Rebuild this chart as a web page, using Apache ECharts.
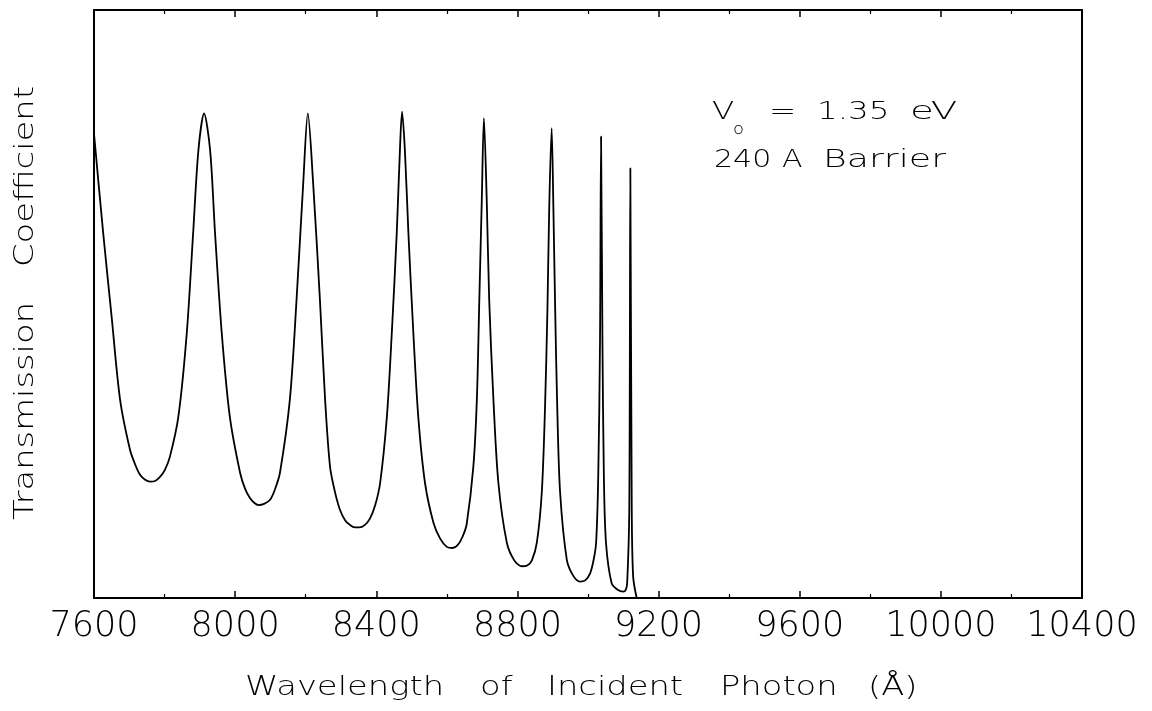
<!DOCTYPE html>
<html>
<head>
<meta charset="utf-8">
<script src="https://cdn.jsdelivr.net/npm/echarts@6/dist/echarts.min.js"></script>
<style>html,body{margin:0;padding:0;background:#fff;}#c{width:1152px;height:711px;}</style>
</head>
<body>
<div id="c"></div>
<script>
// Wavelength (Angstrom) sample positions
const wavelength = [7600,7626,7650,7674,7702,7716,7730,7745,7759,7773,7787,7801,7815,7839,7863,7881,7896,7912,7929,7943,7962,7985,8014,8028,8042,8054,8066,8082,8099,8113,8127,8155,8174,8193,8206,8221,8240,8255,8269,8283,8297,8312,8326,8339,8352,8367,8382,8397,8411,8430,8444,8458,8467,8473,8481,8491,8505,8519,8538,8562,8581,8600,8616,8632,8645,8656,8675,8685,8692,8699,8705,8713,8720,8732,8746,8770,8791,8812,8827,8841,8855,8869,8878,8885,8890,8897,8902,8907,8913,8921,8940,8958,8977,8992,9006,9016,9023,9029,9034,9037,9041,9045,9051,9067,9084,9100,9107,9111,9117,9120,9124,9128,9138];
// Transmission coefficient (relative units, 0 = axis, 1 = top of frame)
const transmission = [0.79,0.621,0.478,0.337,0.252,0.228,0.210,0.201,0.198,0.199,0.206,0.218,0.240,0.308,0.451,0.621,0.762,0.824,0.762,0.621,0.451,0.308,0.213,0.186,0.170,0.162,0.158,0.160,0.167,0.185,0.213,0.337,0.507,0.706,0.824,0.706,0.51,0.337,0.223,0.180,0.150,0.132,0.124,0.120,0.120,0.124,0.135,0.158,0.196,0.308,0.451,0.621,0.762,0.827,0.762,0.621,0.451,0.308,0.196,0.128,0.101,0.087,0.085,0.091,0.105,0.125,0.223,0.337,0.507,0.677,0.816,0.677,0.507,0.337,0.196,0.094,0.064,0.054,0.055,0.064,0.094,0.179,0.320,0.490,0.660,0.799,0.660,0.490,0.320,0.179,0.065,0.038,0.028,0.030,0.042,0.065,0.094,0.206,0.434,0.785,0.434,0.206,0.094,0.025,0.014,0.011,0.014,0.025,0.150,0.731,0.150,0.036,0];
const xTicks = [7600,8000,8400,8800,9200,9600,10000,10400];

const FONT = 'DejaVu Sans';
const chart = echarts.init(document.getElementById('c'), null, {renderer:'canvas'});
const pts = wavelength.map((w,i)=>[w, transmission[i]]);
const tickCommon = {
  type:'value', min: xTicks[0], max: xTicks[xTicks.length-1], interval: 400,
  axisLine:{show:true, onZero:false, lineStyle:{color:'#000', width:2}},
  axisTick:{show:true, inside:true, length:7, lineStyle:{color:'#000', width:1.5}},
  minorTick:{show:true, splitNumber:2, length:4, lineStyle:{color:'#000', width:1.2}},
  splitLine:{show:false}
};
function word(text, x, y, size, sx, rot){
  return {type:'text', x:x, y:y, rotation:rot||0, scaleX:sx, scaleY:1,
    style:{text:text, font:'200 '+size+'px "DejaVu Sans"', fill:'#000', verticalAlign:'middle', align:'left'}};
}
const R = Math.PI/2;
chart.setOption({
  animation:false,
  backgroundColor:'#fff',
  grid:{left:94, right:70, top:10, bottom:113, show:true, borderColor:'#000', borderWidth:2},
  xAxis:[
    Object.assign({}, tickCommon, {position:'bottom',
      axisLabel:{show:true, margin:11, color:'#000', fontFamily:FONT, fontSize:35, fontWeight:200,
        formatter:function(v){return String(v);}}}),
    Object.assign({}, tickCommon, {position:'top', axisLabel:{show:false}})
  ],
  yAxis:[
    {type:'value', min:0, max:1, axisLabel:{show:false}, axisTick:{show:false}, splitLine:{show:false},
     axisLine:{show:true, lineStyle:{color:'#000', width:2}}}
  ],
  series:[{
    type:'line', data: pts, xAxisIndex:0, yAxisIndex:0, showSymbol:false, symbol:'none',
    smooth:0.3, lineStyle:{color:'#000', width:1.8}, clip:true
  },{
    type:'line', data: [], xAxisIndex:1, yAxisIndex:0, showSymbol:false, silent:true
  }],
  graphic:[
    word('Wavelength', 245, 688, 27, 1.25),
    word('of', 480, 688, 27, 1.25),
    word('Incident', 547, 688, 27, 1.25),
    word('Photon', 720, 688, 27, 1.25),
    word('(Å)', 868, 688, 27, 1.25),
    word('Transmission', 26, 520, 27, 1.25, R),
    word('Coefficient', 26, 267, 27, 1.25, R),
    word('V', 712, 112, 25, 1.3),
    word('o', 733, 130, 15, 1.2),
    word('=', 769, 112, 25, 1.3),
    word('1.35', 817, 112, 25, 1.3),
    word('eV', 910, 112, 25, 1.55),
    word('240', 714, 160, 25, 1.2),
    word('A', 782, 160, 25, 1.2),
    word('Barrier', 823, 160, 25, 1.45)
  ]
});
</script>
</body>
</html>
